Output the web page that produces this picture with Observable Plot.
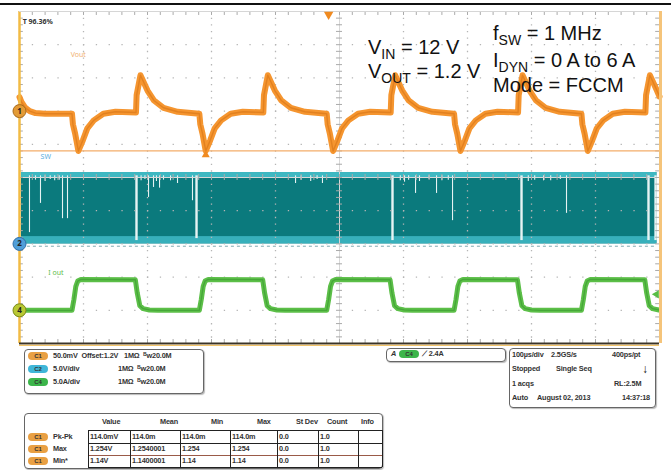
<!DOCTYPE html>
<html>
<head>
<meta charset="utf-8">
<script src="https://cdn.jsdelivr.net/npm/d3@7"></script>
<script src="https://cdn.jsdelivr.net/npm/@observablehq/plot@0.6"></script>
<style>
html,body{margin:0;padding:0;background:#fff;}
#wrap{position:relative;width:671px;height:470px;overflow:hidden;font-family:"Liberation Sans",Arial,sans-serif;}
#topline{position:absolute;left:0;top:3px;width:671px;height:2px;background:#111;}
#chart{position:absolute;left:0;top:0;}
.box{position:absolute;border:1px solid #666;border-radius:4px;background:#fff;box-shadow:1px 1px 1px #bbb;}
.t{position:absolute;font-size:7.3px;font-weight:bold;color:#333;line-height:10px;white-space:pre;letter-spacing:-0.15px;}
.pill{position:absolute;width:20px;height:8px;border-radius:4px;font-size:6px;line-height:8px;text-align:center;color:#333;font-weight:bold;}
.ln{position:absolute;background:#222;}
</style>
</head>
<body>
<div id="wrap"><div id="chart"></div><div id="topline"></div></div>
<script>
// ---------- data ----------
// Channel settings (scale per division, offset, marker position in divisions from bottom)
const ch1Scale = 0.05, ch1Offset = 1.2, ch1Pos = 7;   // Vout, 50 mV/div
const ch2Scale = 5, ch2Pos = 3;                        // SW, 5 V/div
const ch4Scale = 5, ch4Pos = 1;                        // Iout, 5 A/div

// Vout trace: time (µs) and volts
const voutTime = [0,3,9,16,25,40,
  82,83.5,87,92,99,106,116,131,150,182,   183,189,200,210,225,247,281,
  282.5,286,291,298,305,315,330,349,381,  382,388,399,409,424,446,480,
  481.5,485,490,497,504,514,529,548,580,  581,587,598,608,623,645,679,
  680.5,684,689,696,703,713,728,747,779,  780,786,797,807,822,844,878,
  879.5,883,888,895,902,912,927,946,978,  979,985,996,1000];
const voutVolts = [1.221,1.214,1.205,1.200,1.197,1.196,
  1.196,1.180,1.166,1.140,1.156,1.174,1.186,1.196,1.199,1.198,  1.224,1.254,1.231,1.216,1.205,1.199,1.196,
  1.180,1.166,1.140,1.156,1.174,1.186,1.196,1.199,1.198,        1.224,1.254,1.231,1.216,1.205,1.199,1.196,
  1.180,1.166,1.140,1.156,1.174,1.186,1.196,1.199,1.198,        1.224,1.254,1.231,1.216,1.205,1.199,1.196,
  1.180,1.166,1.140,1.156,1.174,1.186,1.196,1.199,1.198,        1.224,1.254,1.231,1.216,1.205,1.199,1.196,
  1.180,1.166,1.140,1.156,1.174,1.186,1.196,1.199,1.198,        1.224,1.254,1.231,1.222];
const voutMinLevel = 1.14;

// Iout trace: time (µs) and amps
const ioutTime = [0,81,
  82,85,88,91,96,181,   184,188,193,203,216,
  281,284,287,290,295,380, 383,387,392,402,415,
  480,483,486,489,494,579, 582,586,591,601,614,
  679,682,685,688,693,778, 781,785,790,800,813,
  878,881,884,887,892,977, 980,984,989,999,1000];
const ioutAmps = [0,0,
  0,1.6,3.6,4.4,4.65,4.6,  2.6,0.7,0.25,0.05,0,
  0,1.6,3.6,4.4,4.65,4.6,  2.6,0.7,0.25,0.05,0,
  0,1.6,3.6,4.4,4.65,4.6,  2.6,0.7,0.25,0.05,0,
  0,1.6,3.6,4.4,4.65,4.6,  2.6,0.7,0.25,0.05,0,
  0,1.6,3.6,4.4,4.65,4.6,  2.6,0.7,0.25,0.05,0.04];
const trigLevelAmps = 2.4;
const trigTime = 483;

// SW node: envelope levels and the visible drop-outs (time µs, lowest volts of the gap)
const swLow = 0, swHigh = 10.75;
const swGapTime = [15.6,32.8,67.2,75,182.8,201.6,209.4,218.8,246.9,270.3,276.6,431.3,473.4,582.8,601.6,618.8,651.6,676.6,784.4,818.8,854.7,982.8,993.8,
  25,40,48,55,62,190,196,214,225,236,440,455,465,595,608,625,640,660,670,795,805,830,845];
const swGapEnd = [1.7,6.1,3.8,3.8,0.5,7.0,8.5,8.4,9.1,6.5,0.8,9.1,9.1,0.5,9.3,7.6,7.6,3.5,0.5,9.5,4.6,0.5,0.5,
  9.6,9.4,9.7,9.5,9.6,9.5,9.7,9.4,9.6,9.5,9.6,9.4,9.7,9.5,9.6,9.4,9.7,9.5,9.6,9.4,9.6,9.5,9.7];

// Graticule
const gridTimes = [100,200,300,400,500,600,700,800,900];
const gridDivs = [1,2,3,4,5,6,7,8,9];

// Texts
const annLines = [
  {x:368, y:54, parts:[["V",0],["IN",1],[" = 12 V",0]]},
  {x:368, y:78, parts:[["V",0],["OUT",1],[" = 1.2 V",0]]},
  {x:493, y:40, parts:[["f",0],["SW",1],[" = 1 MHz",0]]},
  {x:493, y:67, parts:[["I",0],["DYN",1],[" = 0 A to 6 A",0]]},
  {x:493, y:92, parts:[["Mode = FCCM",0]]}
];
const chanSettings = [
  ["50.0mV  Offset:1.2V", "1MΩ  ᴮw20.0M", "#e9a043"],
  ["5.0V/div", "1MΩ  ᴮw20.0M", "#3fb6d8"],
  ["5.0A/div", "1MΩ  ᴮw20.0M", "#3cb54a"]
];
const timebase = [
  [["100µs/div",512],["2.5GS/s",551],["400ps/pt",612]],
  [["Stopped",512],["Single Seq",556]],
  [["1 acqs",512],["RL:2.5M",614]],
  [["Auto",512],["August 02, 2013",537],["14:37:18",622]]
];
const measHeaders = ["Value","Mean","Min","Max","St Dev","Count","Info"];
const measRows = ["Pk-Pk","Max","Min*"];
const measValues = [
  ["114.0mV","114.0m","114.0m","114.0m","0.0","1.0",""],
  ["1.254V","1.2540001","1.254","1.254","0.0","1.0",""],
  ["1.14V","1.1400001","1.14","1.14","0.0","1.0",""]
];

// ---------- helpers: physical units -> screen divisions ----------
const d1 = v => ch1Pos + (v - ch1Offset) / ch1Scale;
const d2 = v => ch2Pos + v / ch2Scale;
const d4 = v => ch4Pos + v / ch4Scale;

const vout = voutTime.map((t, i) => ({t, d: d1(voutVolts[i])}));
const iout = ioutTime.map((t, i) => ({t, d: d4(ioutAmps[i])}));
const gaps = swGapTime.map((t, i) => ({t, top: d2(swHigh - 0.5), bot: d2(swGapEnd[i]), full: swGapEnd[i] < 1}));

const minorX = d3.range(0, 1001, 20);
const minorY = d3.range(0, 10.01, 0.2);

const svgPlot = Plot.plot({
  width: 671, height: 350,
  marginTop: 11, marginLeft: 19, marginRight: 12, marginBottom: 7,
  x: {domain: [0, 1000], axis: null},
  y: {domain: [0, 10], axis: null},
  marks: [
    // SW band
    Plot.rect([0], {x1: 3, x2: 996, y1: d2(swLow), y2: d2(swHigh), fill: "#0b7a7d"}),
    Plot.rect([0], {x1: 3, x2: 996, y1: d2(swHigh - 0.9), y2: d2(swHigh), fill: "#3fb8c2"}),
    Plot.rect([0], {x1: 3, x2: 996, y1: d2(swLow), y2: d2(swLow + 1.1), fill: "#37b0bb"}),
    Plot.ruleY([0], {y: d2(swLow - 0.35), x1: 3, x2: 996, stroke: "#7fa9b0", strokeDasharray: "3,3", strokeWidth: 1}),
    Plot.ruleX(gaps, {x: "t", y1: "top", y2: "bot", stroke: "#e6f3f3", strokeWidth: d => d.full ? 2.4 : 1.1}),
    // graticule
    Plot.ruleX(gridTimes.filter(t => t !== 500), {stroke: "#b5b5b5", strokeWidth: 1.3, strokeDasharray: "1.3,5.34"}),
    Plot.ruleY(gridDivs.filter(d => d !== 5), {stroke: "#b5b5b5", strokeWidth: 1.3, strokeDasharray: "1.3,11.5"}),
    Plot.ruleX([500], {stroke: "#d8d8d8", strokeWidth: 1}),
    Plot.ruleY([5], {stroke: "#d8d8d8", strokeWidth: 1}),
    Plot.ruleY(minorY, {x1: 0, x2: 6, stroke: "#aaa"}),
    Plot.ruleY(minorY, {x1: 994, x2: 1000, stroke: "#aaa"}),
    Plot.ruleY(minorY, {x1: 495.3, x2: 504.7, stroke: "#aaa"}),
    Plot.ruleX(minorX, {y1: 9.88, y2: 10, stroke: "#aaa"}),
    Plot.ruleX(minorX, {y1: 0, y2: 0.12, stroke: "#aaa"}),
    Plot.ruleX(minorX, {y1: 4.91, y2: 5.09, stroke: "#aaa"}),
    // Vout min reference line
    Plot.ruleY([0], {y: d1(voutMinLevel), stroke: "#f3ad6a", strokeWidth: 1.2}),
    // traces
    Plot.line(vout, {x: "t", y: "d", stroke: "#f5952f", strokeWidth: 6, curve: "linear"}),
    Plot.line(vout, {x: "t", y: "d", stroke: "#cf6d12", strokeWidth: 1.4, strokeOpacity: 0.5}),
    Plot.line(iout, {x: "t", y: "d", stroke: "#5cbf48", strokeWidth: 5}),
    Plot.line(iout, {x: "t", y: "d", stroke: "#2f8f2a", strokeWidth: 1.3, strokeOpacity: 0.5}),
    // frame
    Plot.ruleX([0], {stroke: "#f2bb45", strokeWidth: 2.5}),
    Plot.ruleX([1000], {stroke: "#f5c47a", strokeWidth: 3, dx: 1}),
    Plot.ruleY([0], {stroke: "#3a3428", strokeWidth: 2}),
    Plot.ruleY([0], {stroke: "#f2c46a", strokeWidth: 1.2, dy: 1.8}),
    Plot.ruleY([10], {stroke: "#d6d6d6", strokeWidth: 1}),
    // markers
    Plot.dot([0], {x: trigTime, y: 10, symbol: "triangle", rotate: 180, r: 3.5, fill: "#f08a20", dy: 3}),
    Plot.dot([0], {x: 291, y: d1(voutMinLevel), symbol: "triangle", r: 3, fill: "#f08a20", dy: 4}),
    Plot.dot([0], {x: 1000, y: d4(trigLevelAmps), symbol: "triangle", rotate: -90, r: 3, fill: "#58bd45", dx: -3}),
    Plot.dot([{d: ch1Pos, c: "#e39a35", s: "#a86a1a"}, {d: ch2Pos, c: "#4f9ed8", s: "#2f6ea8"}, {d: ch4Pos, c: "#b9c833", s: "#7a8a18"}],
      {x: 0, y: "d", r: 6.5, fill: "c", stroke: "s", strokeWidth: 1}),
    Plot.text([{d: ch1Pos, l: "1"}, {d: ch2Pos, l: "2"}, {d: ch4Pos, l: "4"}],
      {x: 0, y: "d", text: "l", fontSize: 8, fontWeight: "bold", fill: "#222"}),
    // channel labels
    Plot.text(["Vout"], {x: 80, y: d1(1.2 + 0.05 * 1.7), text: d => d, fill: "#f0b070", fontSize: 7, textAnchor: "start"}),
    Plot.text(["SW"], {x: 33, y: d2(13.1), text: d => d, fill: "#5aaee0", fontSize: 7, textAnchor: "start"}),
    Plot.text(["I out"], {x: 45, y: d4(5.6), text: d => d, fill: "#5cbd48", fontSize: 7, textAnchor: "start"}),
    Plot.text(["T 96.36%"], {x: 5, y: 9.8, text: d => d, fill: "#333", fontSize: 7, fontWeight: "bold", textAnchor: "start", dy: 4})
  ]
});
document.getElementById("chart").appendChild(svgPlot);

// annotation text with subscripts
const svg = d3.select(svgPlot);
annLines.forEach(a => {
  const txt = svg.append("text").attr("x", a.x).attr("y", a.y)
    .attr("text-anchor", "start")
    .attr("font-family", "'Liberation Sans', Arial, sans-serif").attr("font-size", 20)
    .attr("fill", "#111").style("white-space", "pre");
  let down = false;
  a.parts.forEach(([s, sub]) => {
    const ts = txt.append("tspan").text(s);
    if (sub) { ts.attr("font-size", 14); if (!down) { ts.attr("dy", 5); down = true; } }
    else if (down) { ts.attr("dy", -5); down = false; }
  });
});

// ---------- bottom panels ----------
const wrap = document.getElementById("wrap");
function el(cls, style, text) {
  const e = document.createElement("div");
  e.className = cls;
  Object.assign(e.style, style);
  if (text != null) e.textContent = text;
  wrap.appendChild(e);
  return e;
}
function txt(x, cy, s, extra) { return el("t", Object.assign({left: x + "px", top: (cy - 5) + "px"}, extra || {}), s); }
function pill(x, cy, color, s) { return el("pill", {left: x + "px", top: (cy - 4) + "px", background: color}, s); }

// channel settings panel
el("box", {left: "24px", top: "349px", width: "178px", height: "43px"});
chanSettings.forEach((r, i) => {
  const cy = 356 + i * 13;
  pill(28, cy, r[2], ["C1", "C2", "C4"][i]);
  txt(53, cy, r[0]);
  txt(i === 0 ? 124 : 118, cy, r[1]);
});

// trigger panel
el("box", {left: "386px", top: "348px", width: "118px", height: "12px"});
txt(391, 354, "A", {fontStyle: "italic"});
pill(399, 354, "#3cb54a", "C4");
txt(422, 354, "⟋ 2.4A");

// timebase panel
el("box", {left: "509px", top: "348px", width: "145px", height: "58px"});
timebase.forEach((row, i) => {
  const cy = 355 + i * 14.3;
  row.forEach(([s, x]) => txt(x, cy, s));
});
txt(642, 369, "↓", {fontSize: "12px", color: "#111"});

// measurement table
el("box", {left: "24px", top: "413px", width: "357px", height: "54px"});
const colX = [88, 130, 180, 230, 277, 318, 358, 382];
const rowY = [430, 443, 455, 467];
const headX = [102, 160, 211, 257, 296, 327, 361];
measHeaders.forEach((h, i) => txt(headX[i], 422, h));
rowY.forEach((y, i) => el("ln", {left: colX[0] + "px", top: (y - 0.5) + "px", width: (colX[7] - colX[0]) + "px", height: "1px", background: i === 2 ? "#9a5a48" : "#222"}));
colX.forEach(x => el("ln", {left: (x - 0.5) + "px", top: rowY[0] + "px", width: "1px", height: (rowY[3] - rowY[0]) + "px"}));
measRows.forEach((r, i) => {
  const cy = (rowY[i] + rowY[i + 1]) / 2;
  pill(28, cy, "#e9a043", "C1");
  txt(53, cy, r);
  measValues[i].forEach((v, j) => txt(colX[j] + 2, cy, v));
});
</script>
</body>
</html>
